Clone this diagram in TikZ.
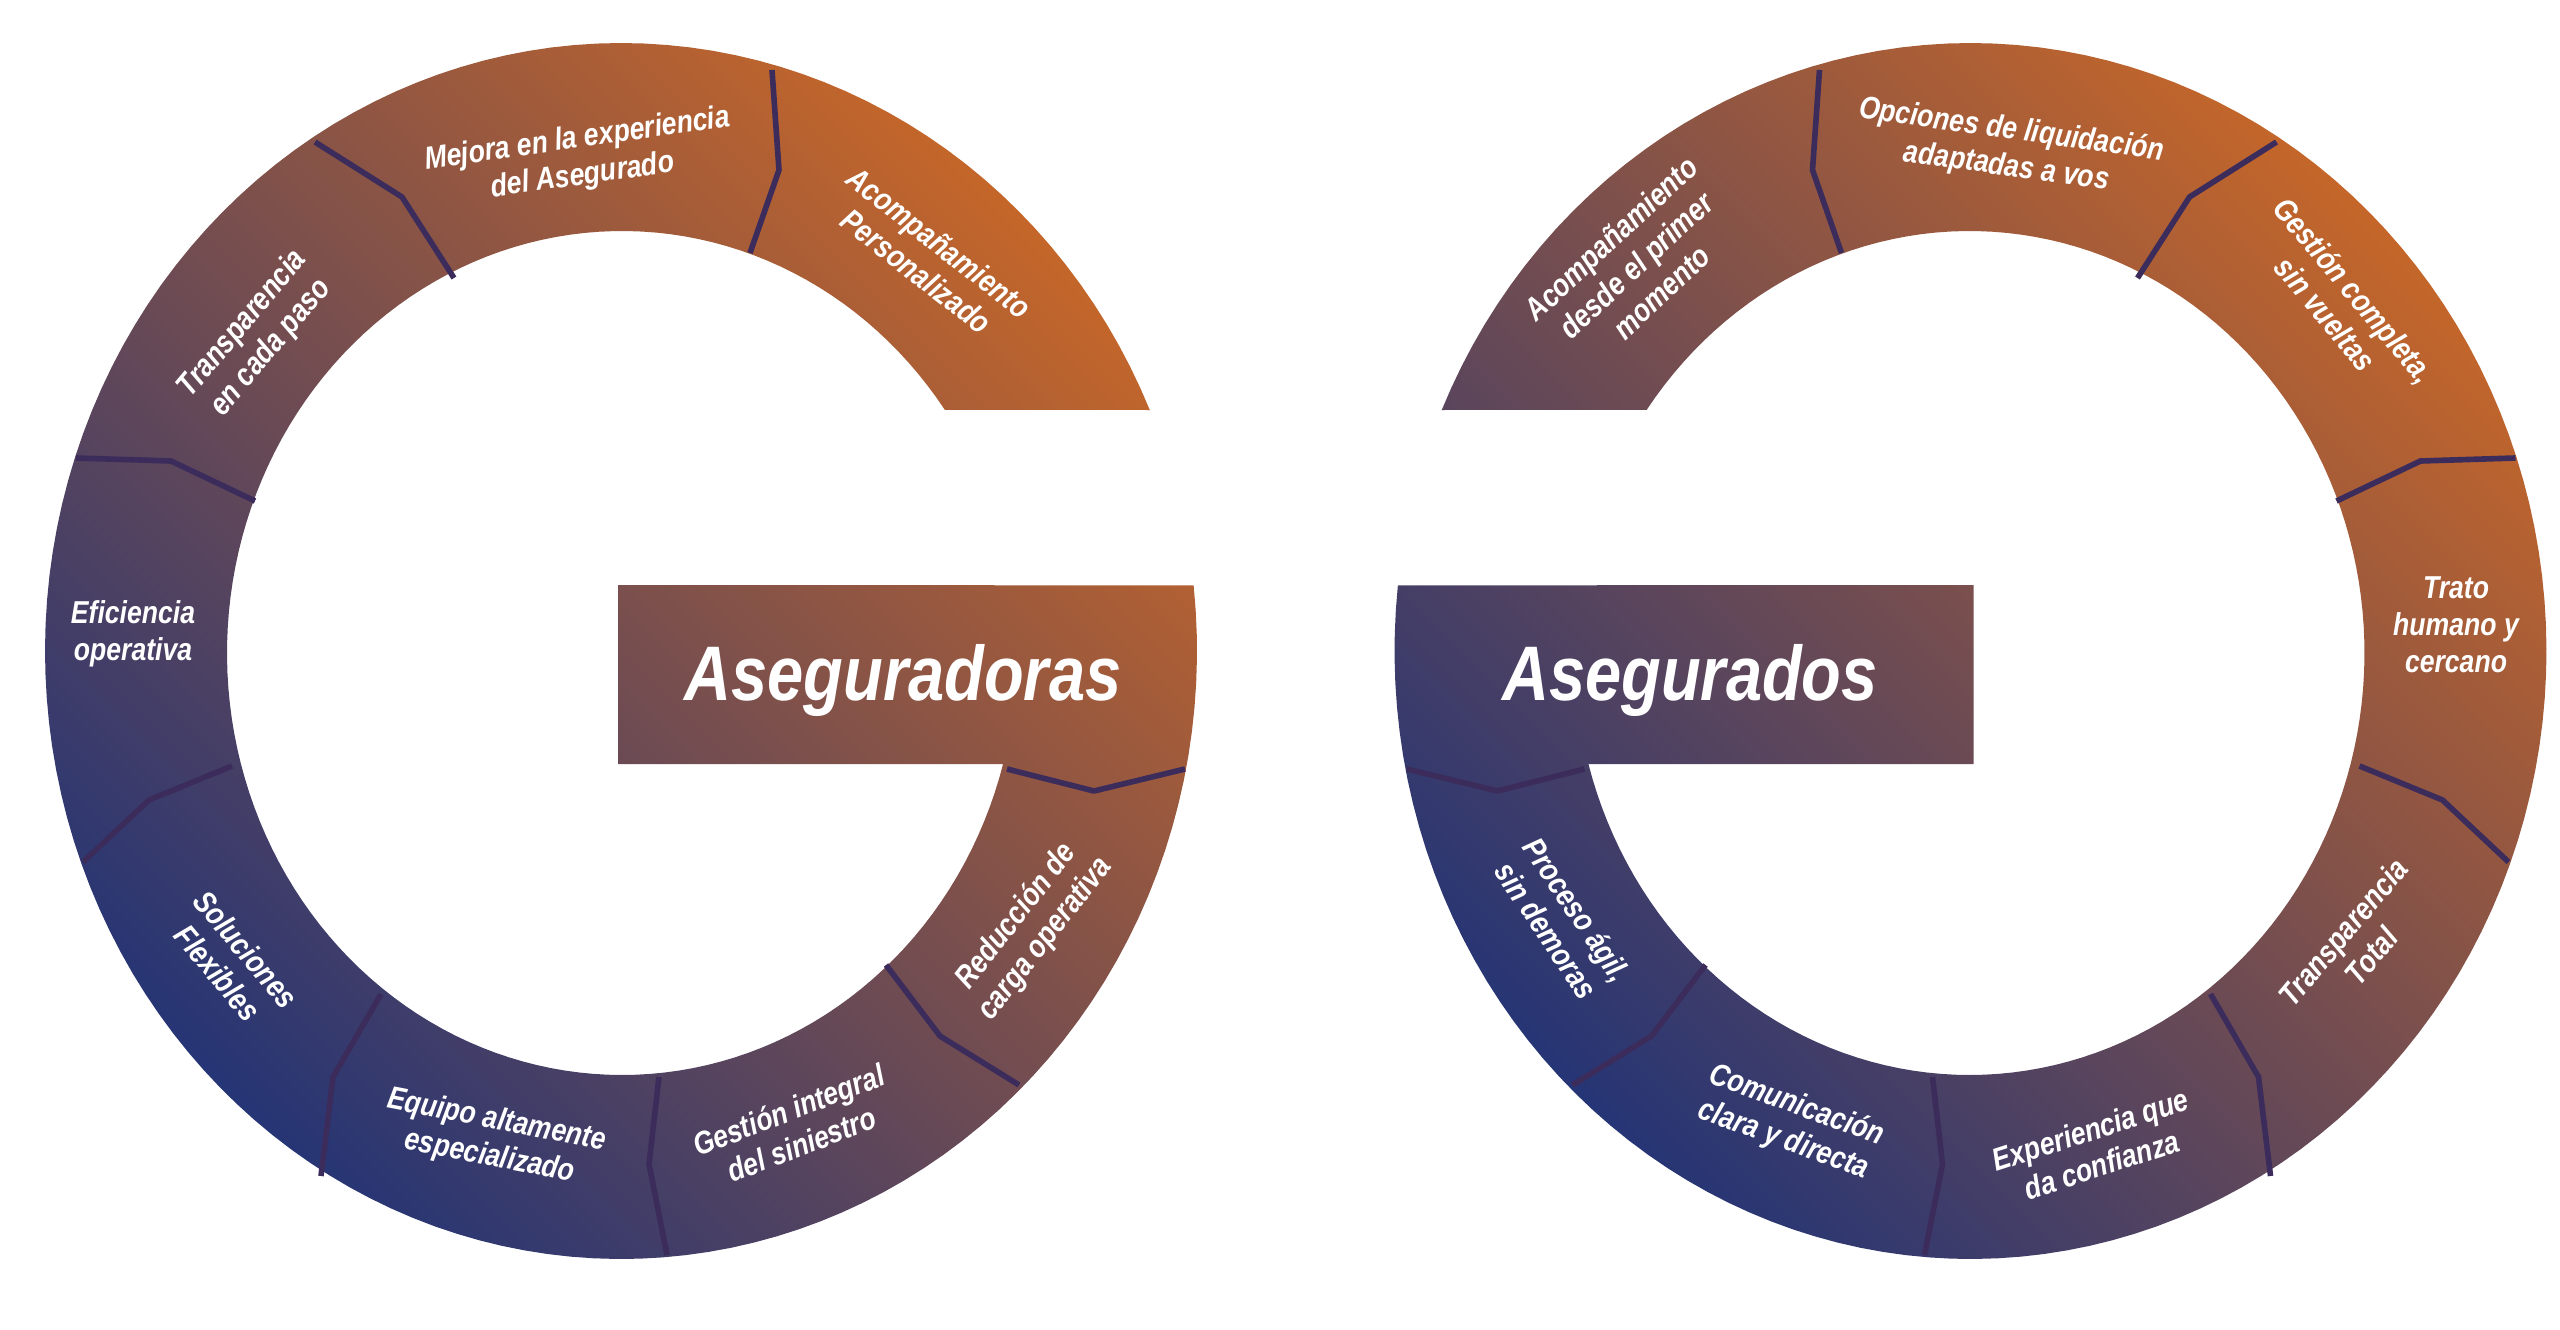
\documentclass[tikz,border=0pt]{standalone}
\usepackage{fontspec}
\setmainfont{Liberation Sans}[FakeStretch=0.84]
\definecolor{gor}{HTML}{C4662A}
\definecolor{gpu}{HTML}{6A4461}
\definecolor{gnv}{HTML}{263575}
\definecolor{gdiv}{HTML}{3B2C5C}
\tikzset{
  lab/.style={font=\bfseries\itshape\fontsize{9}{10.5}\selectfont,align=center,text=white,inner sep=0pt},
  ttl/.style={font=\bfseries\itshape\fontsize{22}{24}\selectfont,text=white,inner sep=0pt},
  divline/.style={draw=gdiv,line width=1.6pt,line join=round},
  gshade/.style={top color=gor,middle color=gpu,bottom color=gnv,shading angle=-45}
}
\begin{document}
\begin{tikzpicture}[x=0.01cm,y=-0.01cm]
\useasboundingbox (0,0) rectangle (2560,1330);
\foreach \sx/\sh in {1/0cm,-1/25.9cm}{
\begin{scope}[xshift=\sh,xscale=\sx]
  \shade[gshade] (1150,410) -- plot[domain=-23.3:-366.2,samples=150] ({621+576*cos(\x)},{651+608*sin(\x)}) -- (618,585) -- (618,764) -- plot[domain=15.25:324.8,samples=150] ({622+395*cos(\x)},{653+422*sin(\x)}) -- cycle;
  \draw[divline] (772,70) -- (779,170) -- (750,253);
  \draw[divline] (315,142) -- (402,197) -- (454,278);
  \draw[divline] (76,458) -- (171,461) -- (255,501);
  \draw[divline] (83,862) -- (149,800) -- (232,766);
  \draw[divline] (321,1176) -- (333,1077) -- (381,994);
  \draw[divline] (667,1255) -- (649,1164) -- (659,1077);
  \draw[divline] (1019,1085) -- (940,1036) -- (886,965);
  \draw[divline] (1007,769) -- (1094,791) -- (1185,769);
\end{scope}
}
% left G labels
\node[ttl] (t1) at (903,680) {Aseguradoras};
\node[lab,rotate=8] (l1) at (580,158) {Mejora en la experiencia\\del Asegurado};
\node[lab,rotate=-38] (l2) at (928,257) {Acompañamiento\\Personalizado};
\node[lab,rotate=50] (l3) at (257,336) {Transparencia\\en cada paso};
\node[lab] (l4) at (133,634) {Eficiencia\\operativa};
\node[lab,rotate=-50] (l5) at (232,961) {Soluciones\\Flexibles};
\node[lab,rotate=-11] (l6) at (493,1139) {Equipo altamente\\especializado};
\node[lab,rotate=21] (l7) at (795,1127) {Gestión integral\\del siniestro};
\node[lab,rotate=52] (l8) at (1031,928) {Reducción de\\carga operativa};
% right G labels
\node[ttl] (t2) at (1690,680) {Asegurados};
\node[lab,rotate=43] (r1) at (1636,265) {Acompañamiento\\desde el primer\\momento};
\node[lab,rotate=-8] (r2) at (2009,149) {Opciones de liquidación\\adaptadas a vos};
\node[lab,rotate=-50] (r3) at (2340,302) {Gestión completa,\\sin vueltas};
\node[lab] (r4) at (2456,625) {Trato\\humano y\\cercano};
\node[lab,rotate=50] (r5) at (2357,944) {Transparencia\\Total};
\node[lab,rotate=18] (r6) at (2096,1147) {Experiencia que\\da confianza};
\node[lab,rotate=-20] (r7) at (1790,1123) {Comunicación\\clara y directa};
\node[lab,rotate=-56] (r8) at (1562,920) {Proceso ágil,\\sin demoras};
\end{tikzpicture}
\end{document}
